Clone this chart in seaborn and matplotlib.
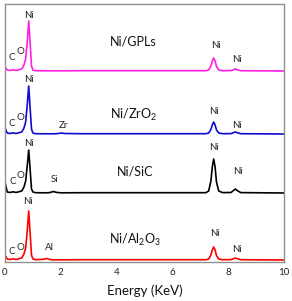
import pandas as pd
import seaborn as sns
import matplotlib.pyplot as plt

# energy grid (keV) shared by all four spectra
energy = [0.0, 0.08, 0.18, 0.28, 0.38, 0.45, 0.52, 0.6, 0.68, 0.74, 0.80, 0.85, 0.90, 0.95,
          1.0, 1.1, 1.4, 1.49, 1.58, 1.65, 1.74, 1.83, 1.95, 2.04, 2.13, 2.7, 4.0, 5.5,
          7.2, 7.3, 7.38, 7.43, 7.48, 7.53, 7.58, 7.66, 7.8, 8.1, 8.19, 8.26, 8.33, 8.45, 10.0]

# intensities above each baseline (arb. units)
gpl = [4, 1, 0.5, 1.2, 0.6, 0.8, 1.5, 2, 6, 12, 30, 50, 28, 5,
       1, 0.3, 0.2, 0.2, 0.2, 0.2, 0.2, 0.2, 0.2, 0.2, 0.2, 0.3, 0.3, 0.3,
       0.3, 1, 5, 10, 13, 10, 4.5, 1, 0.3, 0.4, 1.3, 2, 1.2, 0.3, 0]
zro2 = [6, 1, 0.5, 1.2, 0.6, 0.8, 1.5, 2, 6, 12, 30, 48, 26, 5,
        1, 0.3, 0.2, 0.2, 0.2, 0.2, 0.2, 0.3, 0.6, 1.0, 0.5, 0.3, 0.3, 0.3,
        0.3, 1, 4.5, 9, 12, 9, 4, 1, 0.3, 0.4, 1.3, 2, 1.2, 0.3, 0]
sic = [11, 1, 0.5, 1.2, 0.6, 0.8, 1.5, 2, 6, 12, 28, 43, 24, 4,
       1, 0.3, 0.2, 0.2, 0.3, 0.8, 1.5, 0.7, 0.3, 0.2, 0.2, 0.3, 0.3, 0.3,
       0.3, 2, 12, 26, 34, 26, 11, 2, 0.4, 0.5, 2.5, 4, 2.3, 0.4, 0]
al2o3 = [5, 1, 0.5, 1.2, 0.6, 0.8, 1.5, 2, 6, 12, 30, 49, 27, 5,
         1, 0.3, 0.8, 1.5, 0.8, 0.3, 0.2, 0.2, 0.2, 0.2, 0.2, 0.3, 0.3, 0.3,
         0.3, 1, 5, 10, 13, 10, 4.5, 1, 0.3, 0.4, 1.3, 2, 1.2, 0.3, 0]

names = ["Ni/GPLs", "Ni/ZrO$_2$", "Ni/SiC", "Ni/Al$_2$O$_3$"]
offsets = [191, 128, 69, 2]
colors = ["#ff1ee6", "#0a0ad2", "#000000", "#ff0000"]
series = [gpl, zro2, sic, al2o3]

# peak labels: (sample index, text, energy, height)
peak_labels = [
    (0, "Ni", 0.86, 247), (0, "C", 0.25, 204), (0, "O", 0.54, 211), (0, "Ni", 7.56, 217), (0, "Ni", 8.32, 203),
    (1, "Ni", 0.86, 182), (1, "C", 0.25, 138), (1, "O", 0.54, 145), (1, "Zr", 2.11, 137), (1, "Ni", 7.49, 150), (1, "Ni", 8.32, 137),
    (2, "Ni", 0.86, 119), (2, "C", 0.29, 80), (2, "O", 0.54, 86), (2, "Si", 1.79, 82), (2, "Ni", 7.49, 115), (2, "Ni", 8.35, 91),
    (3, "Ni", 0.82, 61), (3, "C", 0.25, 10), (3, "O", 0.54, 15), (3, "Al", 1.58, 15), (3, "Ni", 7.53, 28), (3, "Ni", 8.32, 13),
]
name_pos = [(4.59, 220), (4.59, 147), (4.68, 91), (4.65, 22)]

sns.set_style("white")
plt.rcParams["font.family"] = ["Lato", "DejaVu Sans"]
plt.rcParams["mathtext.fontset"] = "custom"
plt.rcParams["mathtext.rm"] = "Lato"
plt.rcParams["mathtext.it"] = "Lato:italic"

rows = []
for name, vals, off in zip(names, series, offsets):
    for e, v in zip(energy, vals):
        rows.append({"energy": e, "counts": v + off, "sample": name})
df = pd.DataFrame(rows)

fig = plt.figure(figsize=(2.92, 3.01), dpi=100)
ax = fig.add_axes([5 / 292, 39 / 301, 279 / 292, 258 / 301])
sns.lineplot(data=df, x="energy", y="counts", hue="sample", hue_order=names,
             palette=colors, linewidth=1.2, legend=False, ax=ax)

for i, txt, e, y in peak_labels:
    ax.text(e, y, txt, ha="center", va="center", fontsize=7, color="#222222")
for (e, y), name in zip(name_pos, names):
    ax.text(e, y, name, ha="center", va="center", fontsize=9, color="#111111")

ax.set_xlim(0, 10)
ax.set_ylim(0, 258)
ax.set_xticks([0, 2, 4, 6, 8, 10])
ax.set_yticks([])
ax.tick_params(axis="x", length=0, pad=4, labelsize=7, colors="#222222")
ax.set_xlabel("Energy (KeV)", fontsize=9.5, labelpad=6, color="#111111")
ax.set_ylabel("")
for s in ax.spines.values():
    s.set_color("#909090")
    s.set_linewidth(1)

fig.savefig("out.png", dpi=100)
